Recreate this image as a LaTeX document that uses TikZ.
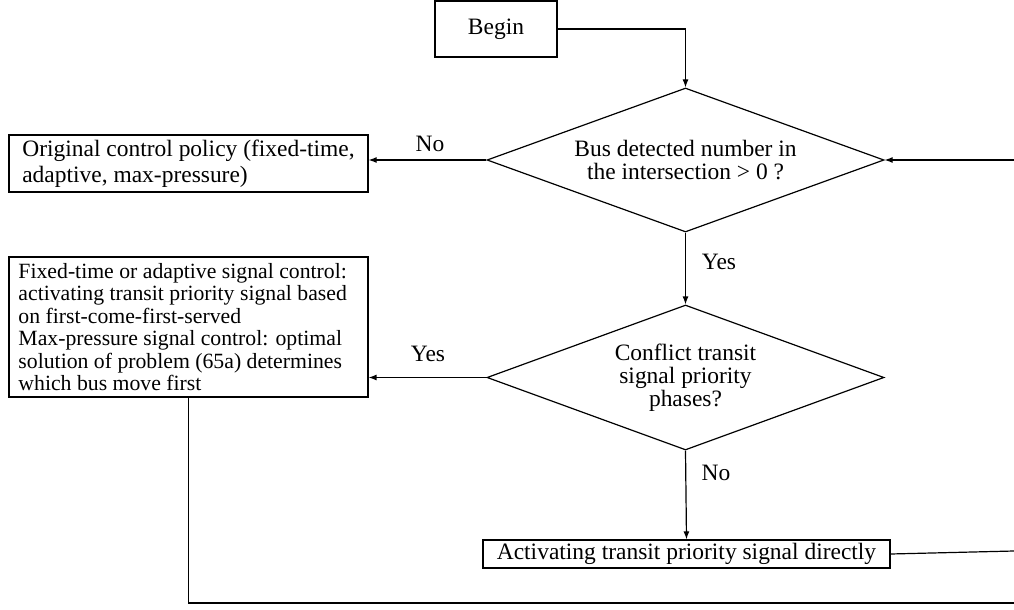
\documentclass[tikz,border=0pt]{standalone}
\usepackage{fontspec}
\setmainfont{Liberation Serif}
\usetikzlibrary{shapes.geometric,arrows.meta}
\begin{document}
\begin{tikzpicture}[x=0.75pt,y=-0.75pt,
  txt/.style={font=\fontsize{17.6}{17.4}\selectfont},
  wide/.style={font=\fontsize{17.6}{19.5}\selectfont},
  small/.style={font=\fontsize{16.3}{16.8}\selectfont},
  box/.style={txt,draw,line width=0.9pt,inner sep=0pt},
  decision/.style={txt,draw,diamond,line width=0.9pt,inner sep=0pt,aspect=2.75,align=center},
  flow/.style={line width=0.9pt,-{Latex[length=6pt,width=4.5pt]}},
  link/.style={line width=0.9pt},
  lbl/.style={txt}]
\useasboundingbox (0,0) rectangle (1014,610);

% process boxes
\node[box,minimum width=91.5pt,minimum height=42pt] (begin) at (496,29) {Begin};
\node[box,wide,align=left,minimum width=269.25pt,minimum height=42.75pt] (orig) at (188.5,163.5)
  {Original control policy (fixed-time,\\adaptive, max-pressure)};
\node[box,small,align=flush left,text width=255pt,inner xsep=7.1pt,minimum height=105pt] (tsp) at (188.5,327)
  {Fixed-time or adaptive signal control:\\activating transit priority signal based\\on first-come-first-served\\Max-pressure signal control: optimal\\solution of problem (65a) determines\\which bus move first};
\node[box,minimum width=305.25pt,minimum height=21pt] (direct) at (686.5,554)
  {Activating transit priority signal directly};

% decisions
\node[decision,minimum width=297.75pt,minimum height=108pt] (bus) at (685.5,160)
  {Bus detected number in\\the intersection > 0 ?};
\node[decision,minimum width=297.75pt,minimum height=108.75pt] (conf) at (685.5,377.5)
  {Conflict transit\\signal priority\\phases?};

% loop ends at the right margin
\coordinate (loopin) at (1014,160);
\coordinate (loopout) at (1014,551);
\coordinate (loopbot) at (1014,603);
\coordinate (corner) at (tsp.south |- loopbot);

% connectors
\draw[flow] (begin.east) -| (bus.north);
\draw[flow] (loopin) -- (bus.east);
\draw[flow] (bus.west) -- (bus.west -| orig.east);
\draw[flow] (bus.south) -- (conf.north);
\draw[flow] (conf.west) -- (conf.west -| tsp.east);
\draw[flow] (conf.south) -- (direct.north);
\draw[link] (direct.east) -- (loopout);
\draw[link] (tsp.south) -- (corner) -- (loopbot);

% branch labels
\node[lbl] (no1) at (430,144) {No};
\node[lbl] (yes1) at (719,262) {Yes};
\node[lbl] (yes2) at (428,354) {Yes};
\node[lbl] (no2) at (716,473) {No};
\end{tikzpicture}
\end{document}
